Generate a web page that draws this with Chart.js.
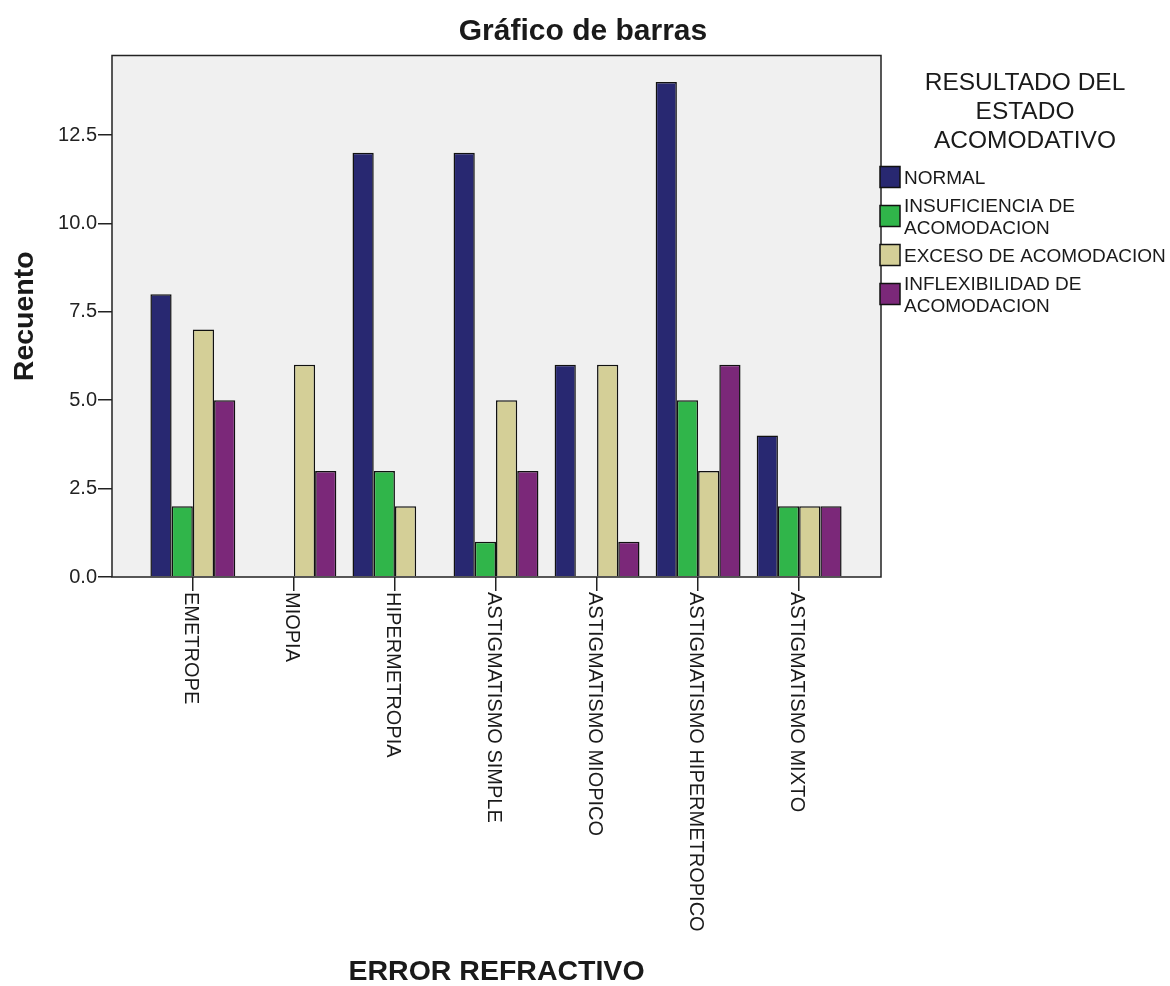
<!DOCTYPE html>
<html>
<head>
<meta charset="utf-8">
<script src="https://cdn.jsdelivr.net/npm/chart.js@4.4.1/dist/chart.umd.min.js"></script>
<style>
  html, body { margin: 0; padding: 0; background: #fff; }
  canvas { display: block; }
</style>
</head>
<body>
<canvas id="chart" width="1170" height="986"></canvas>
<script>
const categories = ["EMETROPE", "MIOPIA", "HIPERMETROPIA", "ASTIGMATISMO SIMPLE",
  "ASTIGMATISMO MIOPICO", "ASTIGMATISMO HIPERMETROPICO", "ASTIGMATISMO MIXTO"]
const normal         = [8, 0, 12, 12, 6, 14, 4]
const insuficiencia  = [2, 0, 3, 1, 0, 5, 2]
const exceso         = [7, 6, 2, 5, 6, 3, 2]
const inflexibilidad = [5, 3, 0, 3, 1, 6, 2]
const yTicks = [0, 2.5, 5, 7.5, 10, 12.5]

const seriesLabels = ["NORMAL", "INSUFICIENCIA DE ACOMODACION", "EXCESO DE ACOMODACION", "INFLEXIBILIDAD DE ACOMODACION"]
const legendLines = [["NORMAL"], ["INSUFICIENCIA DE", "ACOMODACION"], ["EXCESO DE ACOMODACION"], ["INFLEXIBILIDAD DE", "ACOMODACION"]]
const legendTitle = ["RESULTADO DEL", "ESTADO", "ACOMODATIVO"]
const chartTitle = "Gráfico de barras"
const xTitle = "ERROR REFRACTIVO"
const yTitle = "Recuento"

const colors = ["#282871", "#30B54A", "#D4CF97", "#7B2879"]
const FONT = "'Liberation Sans', Arial, sans-serif"
const ink = "#1a1a1a"

const toPoints = arr => arr.map((v, i) => ({ x: i, y: v }))

const makeDataset = (data, label, color) => ({
  label,
  data: toPoints(data),
  backgroundColor: color,
  borderColor: "#111",
  borderWidth: 1.5,
  categoryPercentage: 0.84,
  barPercentage: 1,
})

const datasets = [normal, insuficiencia, exceso, inflexibilidad]
  .map((d, i) => makeDataset(d, seriesLabels[i], colors[i]))

// plot background, frame, titles, rotated category labels and legend
const decor = {
  id: "decor",
  beforeDatasetsDraw(chart) {
    const { ctx, chartArea: a } = chart
    ctx.save()
    ctx.fillStyle = "#F0F0F0"
    ctx.fillRect(a.left, a.top, a.right - a.left, a.bottom - a.top)
    ctx.restore()
  },
  afterDraw(chart) {
    const { ctx, chartArea: a, scales } = chart
    ctx.save()
    ctx.strokeStyle = "#222"
    ctx.lineWidth = 1.5
    ctx.strokeRect(a.left, a.top, a.right - a.left, a.bottom - a.top)

    ctx.fillStyle = ink
    ctx.textBaseline = "middle"
    ctx.textAlign = "center"
    ctx.font = `bold 30px ${FONT}`
    ctx.fillText(chartTitle, 583, 32)
    ctx.font = `bold 28.5px ${FONT}`
    ctx.fillText(xTitle, (a.left + a.right) / 2, 972)
    ctx.save()
    ctx.translate(25, (a.top + a.bottom) / 2)
    ctx.rotate(-Math.PI / 2)
    ctx.fillText(yTitle, 0, 0)
    ctx.restore()

    // category labels, reading top to bottom
    ctx.font = `20px ${FONT}`
    ctx.textAlign = "left"
    categories.forEach((c, i) => {
      const x = scales.x.getPixelForValue(i)
      ctx.save()
      ctx.translate(x - 2.5, a.bottom + 15)
      ctx.rotate(Math.PI / 2)
      ctx.fillText(c, 0, 0)
      ctx.restore()
    })

    // legend
    ctx.textAlign = "center"
    ctx.font = `24.5px ${FONT}`
    legendTitle.forEach((t, i) => ctx.fillText(t, 1025, 83 + i * 29))
    ctx.font = `19px ${FONT}`
    ctx.textAlign = "left"
    let y = 179
    chart.data.datasets.forEach((ds, i) => {
      const lines = legendLines[i]
      const first = y
      lines.forEach((l, j) => {
        ctx.fillText(l, 904, y)
        if (j < lines.length - 1) y += 22
      })
      const mid = (first + y) / 2 - 2
      ctx.fillStyle = ds.backgroundColor
      ctx.fillRect(880, mid - 10.5, 20, 21)
      ctx.strokeStyle = "#111"
      ctx.lineWidth = 1.5
      ctx.strokeRect(880, mid - 10.5, 20, 21)
      ctx.fillStyle = ink
      y += 28
    })
    ctx.restore()
  }
}

new Chart(document.getElementById("chart"), {
  type: "bar",
  data: { datasets },
  plugins: [decor],
  options: {
    responsive: false,
    animation: false,
    layout: { padding: { top: 55.5, right: 289, bottom: 0, left: 0 } },
    plugins: { legend: { display: false }, tooltip: { enabled: false } },
    scales: {
      x: {
        type: "linear",
        offset: false,
        min: -0.8,
        max: 6.81,
        afterBuildTicks: s => { s.ticks = categories.map((c, i) => ({ value: i })) },
        afterFit: s => { s.height = 409 },
        ticks: { display: false },
        grid: { offset: false, drawOnChartArea: false, color: "#222", lineWidth: 1.5, tickLength: 14 },
        border: { display: false }
      },
      y: {
        min: 0,
        max: 14.75,
        afterBuildTicks: s => { s.ticks = yTicks.map(v => ({ value: v })) },
        afterFit: s => { s.width = 112 },
        ticks: {
          color: "#222",
          padding: 1,
          font: { family: FONT, size: 20 },
          callback: v => Number(v).toFixed(1)
        },
        grid: { drawOnChartArea: false, color: "#222", lineWidth: 1.5, tickLength: 14 },
        border: { display: false }
      }
    }
  }
})
</script>
</body>
</html>
